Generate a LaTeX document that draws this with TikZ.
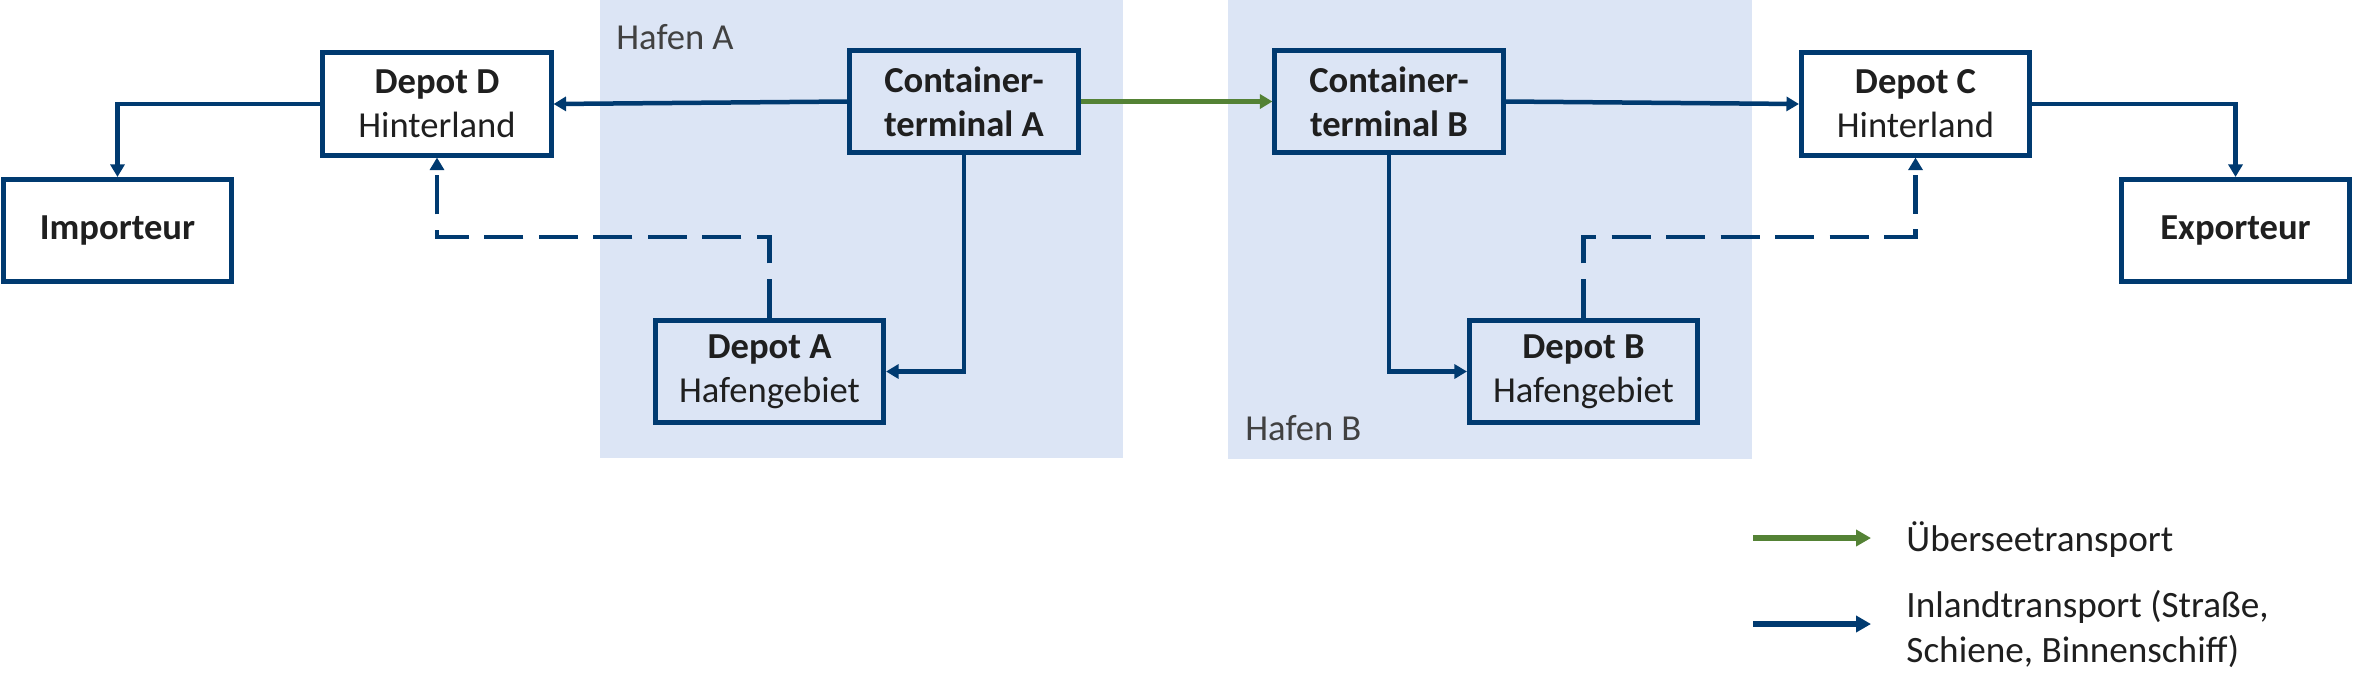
\documentclass[tikz,border=0pt]{standalone}
\usepackage{fontspec}
\setmainfont{Carlito}
\usetikzlibrary{arrows.meta}
\definecolor{navy}{HTML}{003A70}
\definecolor{portbg}{HTML}{DCE5F5}
\definecolor{seagreen}{HTML}{548235}
\definecolor{txt}{HTML}{1F1F1F}
\begin{document}
\begin{tikzpicture}[x=0.5pt,y=-0.5pt,
  box/.style={draw=navy, line width=2.3pt, minimum width=114.25pt, minimum height=51.25pt,
    inner sep=0pt, align=center, text=txt, font=\fontsize{18.3}{22}\selectfont},
  conn/.style={draw=navy, line width=2.25pt, -{Triangle[length=6.25pt,width=7pt]}},
  sea/.style={conn, draw=seagreen},
  dashconn/.style={conn, dash pattern=on 19.5pt off 7.75pt},
  lbl/.style={inner sep=0pt, text=txt!85, font=\fontsize{18.3}{22}\selectfont},
  legarrow/.style={line width=2.75pt, -{Triangle[length=7.5pt,width=8pt]}},
  legtext/.style={inner sep=0pt, text=txt, align=left, font=\fontsize{18.6}{22.5}\selectfont}
]
\useasboundingbox (0,0) rectangle (2353,692);
% port areas
\fill[portbg] (600,0) rectangle (1123,458);
\fill[portbg] (1228,0) rectangle (1752,459);
\node[lbl, anchor=base west] (hA) at (616,49) {Hafen A};
\node[lbl, anchor=base west] (hB) at (1245,440) {Hafen B};
% boxes
\node[box] (dd)  at (437,104)    {\textbf{Depot D}\\Hinterland};
\node[box] (cta) at (964,101.5)  {\textbf{Container-}\\\textbf{terminal A}};
\node[box] (imp) at (117.5,230.5) {\textbf{Importeur}};
\node[box] (da)  at (769.5,371.5) {\textbf{Depot A}\\Hafengebiet};
\node[box] (ctb) at (1389,101.5) {\textbf{Container-}\\\textbf{terminal B}};
\node[box] (dc)  at (1915.5,104) {\textbf{Depot C}\\Hinterland};
\node[box] (db)  at (1583.5,371.5) {\textbf{Depot B}\\Hafengebiet};
\node[box] (exp) at (2235.5,230.5) {\textbf{Exporteur}};
% connectors
\coordinate (midA) at (600,237);
\coordinate (midB) at (1750,237);
\draw[conn] (dd.west) -| (imp.north);
\draw[conn] (cta.west) -- (dd.east);
\draw[conn] (cta.south) |- (da.east);
\draw[dashconn] (da.north) -- (da.north |- midA) -| (dd.south);
\draw[sea] (cta.east) -- (ctb.west);
\draw[conn] (ctb.east) -- (dc.west);
\draw[conn] (ctb.south) |- (db.west);
\draw[dashconn] (db.north) -- (db.north |- midB) -| (dc.south);
\draw[conn] (dc.east) -| (exp.north);
% legend
\coordinate (l1a) at (1753,538);
\coordinate (l1b) at (1871,538);
\coordinate (l2a) at (1753,624);
\coordinate (l2b) at (1871,624);
\draw[legarrow, seagreen] (l1a) -- (l1b);
\draw[legarrow, navy] (l2a) -- (l2b);
\node[legtext, anchor=base west] (t1) at (1906,551) {Überseetransport};
\node[legtext, anchor=west] (t2) at (1906,629) {Inlandtransport (Straße,\\Schiene, Binnenschiff)};
\end{tikzpicture}
\end{document}
